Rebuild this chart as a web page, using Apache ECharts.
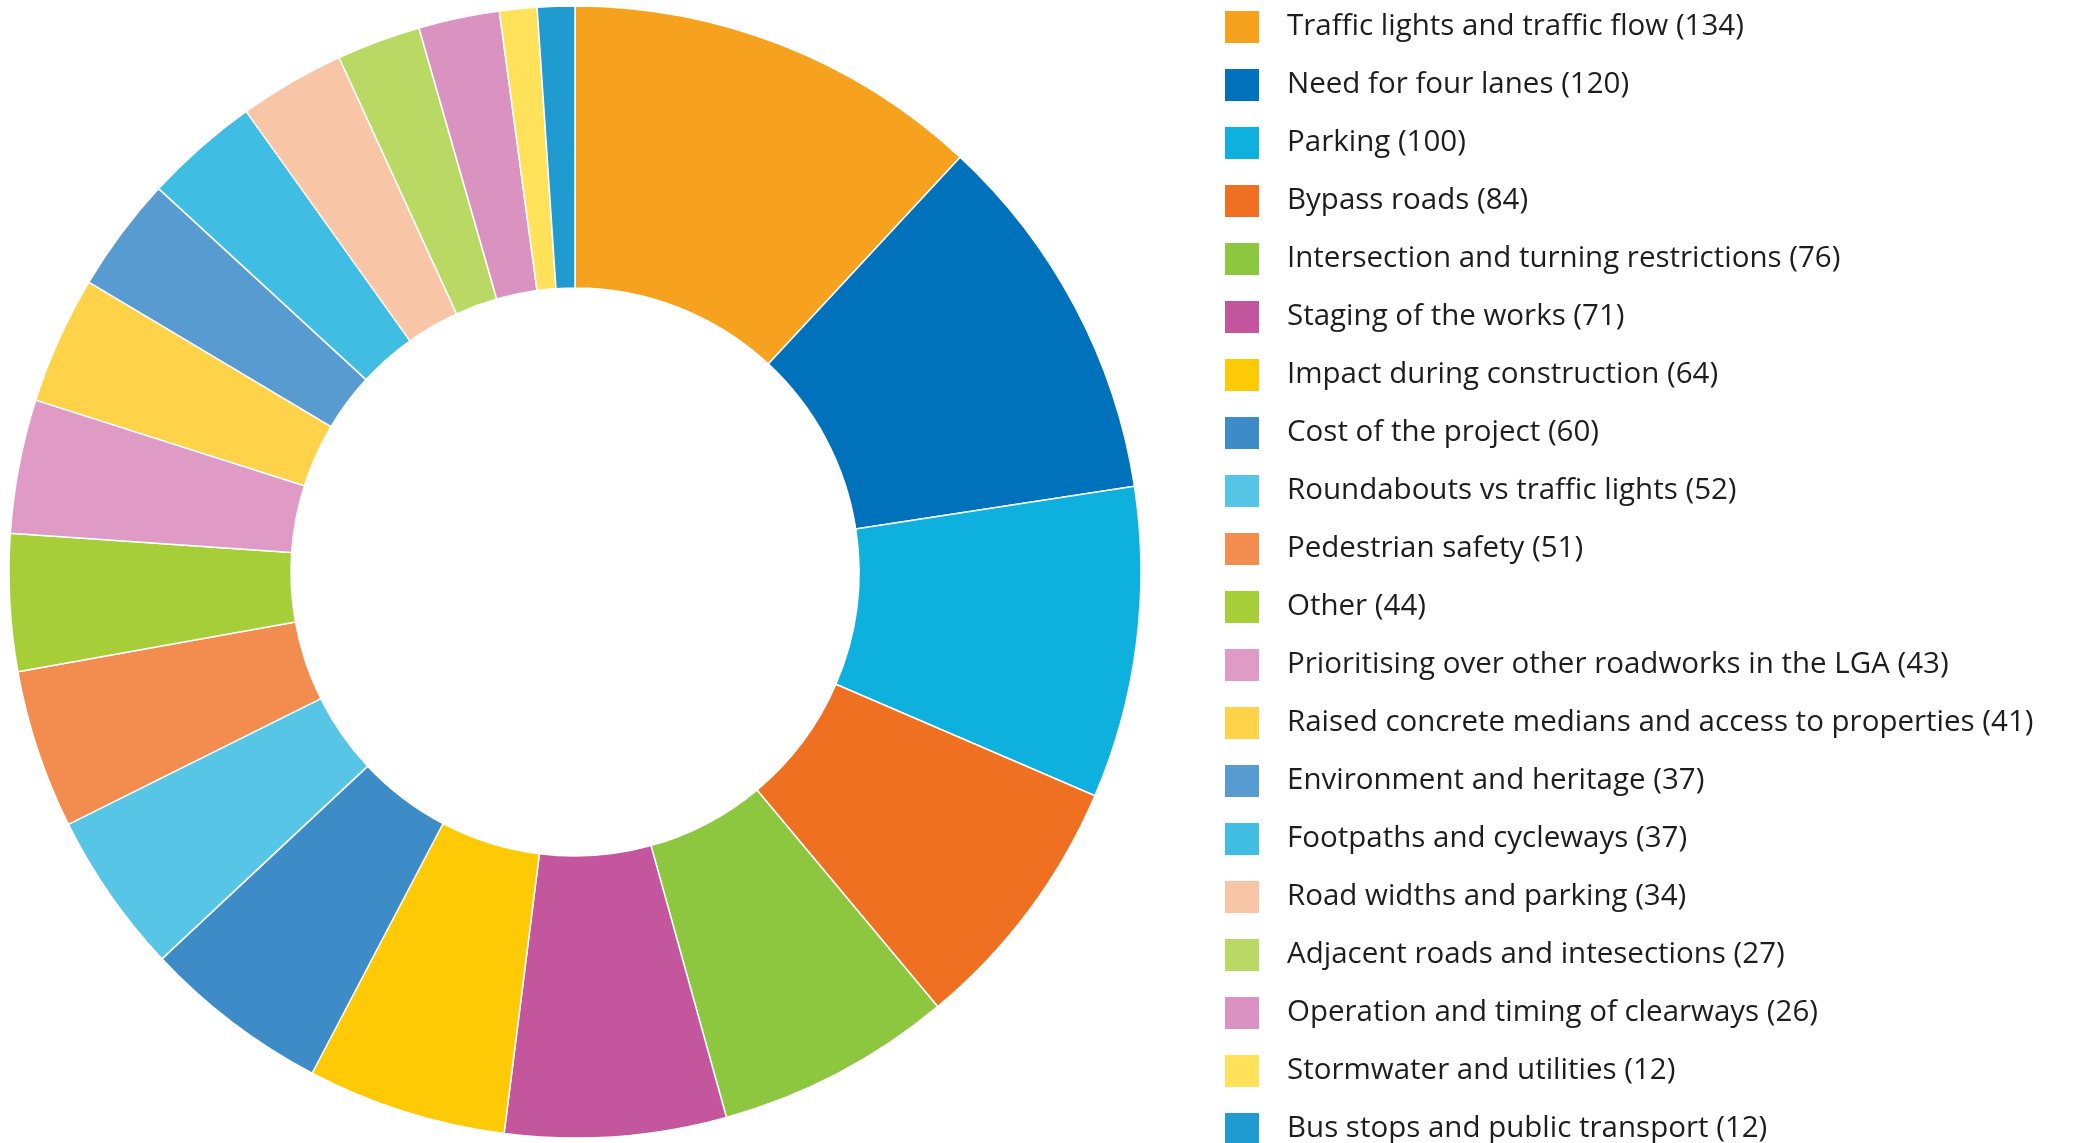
<!DOCTYPE html>
<html>
<head>
<meta charset="utf-8">
<script src="https://cdn.jsdelivr.net/npm/echarts@6/dist/echarts.min.js"></script>
<style>
html,body{margin:0;padding:0;background:#fff;}
#chart{width:2073px;height:1143px;}
</style>
</head>
<body>
<div id="chart"></div>
<script>
const categories = [
  'Traffic lights and traffic flow',
  'Need for four lanes',
  'Parking',
  'Bypass roads',
  'Intersection and turning restrictions',
  'Staging of the works',
  'Impact during construction',
  'Cost of the project',
  'Roundabouts vs traffic lights',
  'Pedestrian safety',
  'Other',
  'Prioritising over other roadworks in the LGA',
  'Raised concrete medians and access to properties',
  'Environment and heritage',
  'Footpaths and cycleways',
  'Road widths and parking',
  'Adjacent roads and intesections',
  'Operation and timing of clearways',
  'Stormwater and utilities',
  'Bus stops and public transport'
];
const values = [134, 120, 100, 84, 76, 71, 64, 60, 52, 51, 44, 43, 41, 37, 37, 34, 27, 26, 12, 12];
const colors = [
  '#F7A21F', '#0071BB', '#0EB0DD', '#F07022', '#8DC63F',
  '#C4569E', '#FECA05', '#3E8CC7', '#57C5E6', '#F38C4F',
  '#A6CE39', '#E09AC6', '#FED34A', '#589BD0', '#3FBDE2',
  '#F8C6A6', '#BAD964', '#DA93C0', '#FFE15A', '#1F9BCF'
];

const data = categories.map((c, i) => ({ name: c, value: values[i] }));
const valueByName = {};
categories.forEach((c, i) => valueByName[c] = values[i]);

const chart = echarts.init(document.getElementById('chart'), null, { renderer: 'canvas' });
chart.setOption({
  animation: false,
  color: colors,
  legend: {
    type: 'plain',
    orient: 'vertical',
    left: 1225,
    top: 11,
    height: 1400,
    padding: 0,
    itemWidth: 34,
    itemHeight: 32,
    itemGap: 26,
    icon: 'rect',
    selectedMode: false,
    data: categories,
    itemStyle: { borderWidth: 0 },
    formatter: name => name + ' (' + valueByName[name] + ')',
    textStyle: {
      fontFamily: 'Open Sans',
      fontSize: 29.5,
      color: '#1d1d1d',
      padding: [0, 0, 0, 23],
      lineHeight: 32
    }
  },
  series: [{
    type: 'pie',
    center: [575, 572],
    radius: [284, 566],
    startAngle: 90,
    clockwise: true,
    label: { show: false },
    labelLine: { show: false },
    emphasis: { disabled: true },
    itemStyle: { borderColor: '#ffffff', borderWidth: 1.5 },
    data: data
  }]
});
</script>
</body>
</html>
